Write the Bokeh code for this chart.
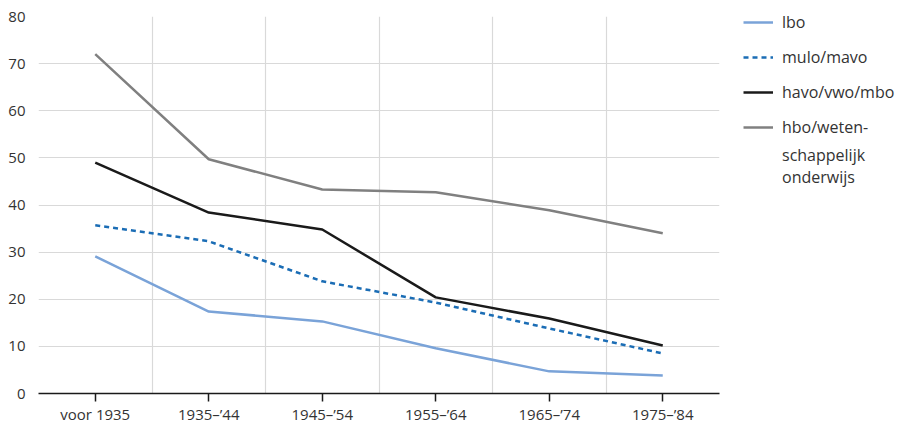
from bokeh.plotting import figure
from bokeh.models import Range1d, FixedTicker, Legend, LegendItem
from bokeh.embed import file_html
from bokeh.resources import INLINE

categories = ["voor 1935", "1935\u2013\u201944", "1945\u2013\u201954", "1955\u2013\u201964", "1965\u2013\u201974", "1975\u2013\u201984"]
lbo = [29.1, 17.4, 15.3, 9.6, 4.7, 3.8]
mulo_mavo = [35.7, 32.3, 23.8, 19.3, 13.8, 8.5]
havo_vwo_mbo = [49.0, 38.4, 34.8, 20.4, 15.9, 10.2]
hbo_wo = [72.0, 49.7, 43.3, 42.7, 38.9, 34.0]
y_ticks = [0, 10, 20, 30, 40, 50, 60, 70, 80]

FONT = "Open Sans"
TXT = "#333333"

n = len(categories)
xs = [i + 0.5 for i in range(n)]

FW, FH = 681, 377
p = figure(frame_width=FW, frame_height=FH, output_backend="svg", toolbar_location=None,
           x_range=Range1d(0, n), y_range=Range1d(0, 80),
           min_border_top=16, min_border_left=38, min_border_right=180, min_border_bottom=4)
p.outline_line_color = None

# axes
p.xaxis.ticker = FixedTicker(ticks=xs)
p.xaxis.major_label_overrides = {x: c for x, c in zip(xs, categories)}
p.xaxis.axis_line_color = "#1a1a1a"
p.xaxis.axis_line_width = 1.5
p.xaxis.major_tick_line_color = "#1a1a1a"
p.xaxis.major_tick_line_width = 1.5
p.xaxis.major_tick_in = 0
p.xaxis.major_tick_out = 8
p.xaxis.minor_tick_line_color = None
p.xaxis.major_label_text_font = FONT
p.xaxis.major_label_text_font_size = "15px"
p.xaxis.major_label_text_color = TXT
p.xaxis.major_label_standoff = 2

p.yaxis.ticker = FixedTicker(ticks=y_ticks)
p.yaxis.axis_line_color = None
p.yaxis.major_tick_line_color = None
p.yaxis.major_tick_out = 0
p.yaxis.major_tick_in = 0
p.yaxis.minor_tick_line_color = None
p.yaxis.minor_tick_out = 0
p.yaxis.major_label_text_font = FONT
p.yaxis.major_label_text_font_size = "15px"
p.yaxis.major_label_text_color = TXT
p.yaxis.major_label_standoff = 13

# grids
p.xgrid.ticker = FixedTicker(ticks=list(range(n + 1)))
p.xgrid.grid_line_color = "#d9d9d9"
p.xgrid.grid_line_width = 1.2
p.ygrid.ticker = FixedTicker(ticks=y_ticks[1:])
p.ygrid.grid_line_color = "#d9d9d9"
p.ygrid.grid_line_width = 1.2

r1 = p.line(xs, lbo, line_color="#7aa3d8", line_width=2.5)
r2 = p.line(xs, mulo_mavo, line_color="#1b6db5", line_width=2.5, line_dash="5 4")
r3 = p.line(xs, havo_vwo_mbo, line_color="#1a1a1a", line_width=2.5)
r4 = p.line(xs, hbo_wo, line_color="#808080", line_width=2.5)

legend = Legend(items=[
    LegendItem(label="lbo", renderers=[r1]),
    LegendItem(label="mulo/mavo", renderers=[r2]),
    LegendItem(label="havo/vwo/mbo", renderers=[r3]),
    LegendItem(label="hbo/weten-", renderers=[r4]),
    LegendItem(label="schappelijk\nonderwijs", renderers=[]),
], location=(24, 205))
legend.border_line_color = None
legend.background_fill_alpha = 0
legend.label_text_font = FONT
legend.label_text_font_size = "16px"
legend.label_text_color = TXT
legend.glyph_width = 30
legend.glyph_height = 20
legend.label_standoff = 9
legend.spacing = 0
legend.padding = 0
legend.margin = 0
legend.label_height = 35
p.add_layout(legend, "right")

open("out.html", "w").write(file_html(p, INLINE))
